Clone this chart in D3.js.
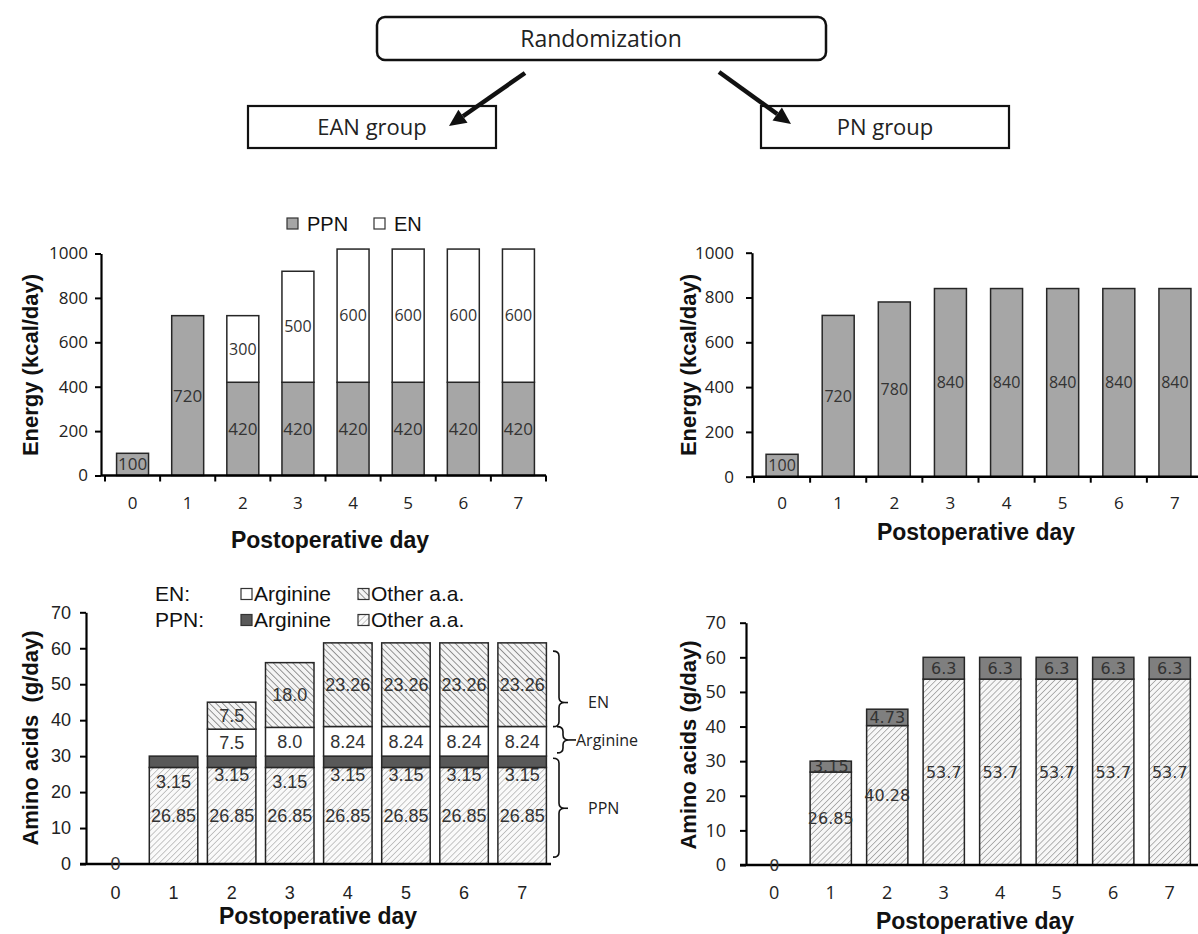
<!DOCTYPE html>
<html>
<head>
<meta charset="utf-8">
<script src="https://cdn.jsdelivr.net/npm/d3@7"></script>
<style>
  body { margin: 0; background: #fff; }
  svg { display: block; }
</style>
</head>
<body>
<div id="chart"></div>
<script>
// Postoperative days (categories)
const days = ["0", "1", "2", "3", "4", "5", "6", "7"];

// EAN group energy (kcal/day)
const eanPPN = [100, 720, 420, 420, 420, 420, 420, 420];
const eanEN = [0, 0, 300, 500, 600, 600, 600, 600];

// PN group energy (kcal/day)
const pnEnergy = [100, 720, 780, 840, 840, 840, 840, 840];

// EAN group amino acids (g/day)
const eanPpnOther = [0, 26.85, 26.85, 26.85, 26.85, 26.85, 26.85, 26.85];
const eanPpnArg = [0, 3.15, 3.15, 3.15, 3.15, 3.15, 3.15, 3.15];
const eanEnArg = [0, 0, 7.5, 8.0, 8.24, 8.24, 8.24, 8.24];
const eanEnOther = [0, 0, 7.5, 18.0, 23.26, 23.26, 23.26, 23.26];

// PN group amino acids (g/day)
const pnOther = [0, 26.85, 40.28, 53.7, 53.7, 53.7, 53.7, 53.7];
const pnArg = [0, 3.15, 4.73, 6.3, 6.3, 6.3, 6.3, 6.3];

// tick values
const energyTicks = [0, 200, 400, 600, 800, 1000];
const aminoTicks = [0, 10, 20, 30, 40, 50, 60, 70];

// brackets beside the EAN amino-acid chart (value ranges)
const braceLabels = ["EN", "Arginine", "PPN"];
const braceFrom = [38.2, 30.9, 1.9];
const braceTo = [59.2, 38.2, 29.4];
const braceTip = [44.9, 34.5, 15.5];

const width = 1198;
const height = 934;

const svg = d3.select("#chart")
  .append("svg")
  .attr("width", width)
  .attr("height", height);

// hatch patterns
const defs = svg.append("defs");
function hatch(id, angle, bg, stroke, size, sw) {
  const p = defs.append("pattern")
    .attr("id", id)
    .attr("patternUnits", "userSpaceOnUse")
    .attr("width", size)
    .attr("height", size)
    .attr("patternTransform", `rotate(${angle})`);
  p.append("rect").attr("width", size).attr("height", size).attr("fill", bg);
  p.append("line")
    .attr("x1", 0).attr("y1", 0).attr("x2", 0).attr("y2", size)
    .attr("stroke", stroke).attr("stroke-width", sw);
}
hatch("ppnHatch", 45, "#fafafa", "#9a9a9a", 4.2, 1.1);
hatch("enHatch", -45, "#f4f4f4", "#6a6a6a", 4.6, 1.4);
hatch("pnHatch", 45, "#f7f7f7", "#7a7a7a", 4.2, 1.1);

const fmtAmino = d => d === 0 ? "0" : (Number.isInteger(d) ? d.toFixed(1) : String(d));

// ---------- flowchart ----------
const flow = svg.append("g");
flow.append("rect")
  .attr("x", 377).attr("y", 17).attr("width", 449).attr("height", 43)
  .attr("rx", 8)
  .attr("fill", "#fff").attr("stroke", "#111").attr("stroke-width", 2.5);
flow.append("text")
  .attr("x", 601).attr("y", 39).attr("dy", "0.35em")
  .attr("text-anchor", "middle")
  .style("font-family", "Open Sans").style("font-size", "23px")
  .attr("fill", "#222")
  .text("Randomization");

const groupBoxes = [
  { x: 248, label: "EAN group" },
  { x: 761, label: "PN group" }
];
groupBoxes.forEach(b => {
  flow.append("rect")
    .attr("x", b.x).attr("y", 106).attr("width", 248).attr("height", 42)
    .attr("fill", "#fff").attr("stroke", "#111").attr("stroke-width", 2.2);
  flow.append("text")
    .attr("x", b.x + 124).attr("y", 127).attr("dy", "0.35em")
    .attr("text-anchor", "middle")
    .style("font-family", "Open Sans").style("font-size", "22px")
    .attr("fill", "#222")
    .text(b.label);
});

function arrow(x1, y1, x2, y2) {
  const a = Math.atan2(y2 - y1, x2 - x1);
  const hl = 17, hw = 8;
  const bx = x2 - hl * Math.cos(a), by = y2 - hl * Math.sin(a);
  flow.append("line")
    .attr("x1", x1).attr("y1", y1).attr("x2", bx).attr("y2", by)
    .attr("stroke", "#111").attr("stroke-width", 4.5);
  const px = -Math.sin(a) * hw, py = Math.cos(a) * hw;
  flow.append("path")
    .attr("d", `M${x2},${y2}L${bx + px},${by + py}L${bx - px},${by - py}Z`)
    .attr("fill", "#111");
}
arrow(525, 73, 449, 126);
arrow(719, 72, 791, 124);

// ---------- helpers ----------
function yAxis(g, y, ticks, x0, font, size, pad) {
  const ax = g.append("g")
    .attr("transform", `translate(${x0},0)`)
    .call(d3.axisLeft(y).tickValues(ticks).tickFormat(d3.format("d"))
      .tickSize(6).tickSizeOuter(0).tickPadding(pad));
  ax.select(".domain").attr("stroke", "#000").attr("stroke-width", 2.2);
  ax.selectAll(".tick line").attr("stroke", "#000").attr("stroke-width", 2);
  ax.selectAll(".tick text")
    .style("font-family", font).style("font-size", size + "px").attr("fill", "#222");
}

function xAxis(g, x, y0, xStart, xEnd, labelY, boundaryTicks, font, size) {
  g.append("line")
    .attr("x1", xStart).attr("x2", xEnd).attr("y1", y0).attr("y2", y0)
    .attr("stroke", "#000").attr("stroke-width", 2.4);
  if (boundaryTicks) {
    g.selectAll(null)
      .data(d3.range(x.domain().length + 1))
      .enter().append("line")
      .attr("x1", i => x.range()[0] + i * x.step())
      .attr("x2", i => x.range()[0] + i * x.step())
      .attr("y1", y0).attr("y2", y0 + 6)
      .attr("stroke", "#000").attr("stroke-width", 2);
  }
  g.selectAll(null)
    .data(x.domain())
    .enter().append("text")
    .attr("x", d => x(d) + x.bandwidth() / 2)
    .attr("y", labelY).attr("dy", "0.35em")
    .attr("text-anchor", "middle")
    .style("font-family", font).style("font-size", size + "px")
    .attr("fill", "#222")
    .text(d => d);
}

function titles(g, xt, yt, yTitle) {
  g.append("text")
    .attr("x", xt[0]).attr("y", xt[1]).attr("dy", "0.35em")
    .attr("text-anchor", "middle")
    .style("font-family", "Liberation Sans").style("font-weight", "bold")
    .style("font-size", "23px").attr("fill", "#111")
    .text("Postoperative day");
  g.append("text")
    .attr("transform", `translate(${yt[0]},${yt[1]}) rotate(-90)`)
    .attr("dy", "0.35em")
    .attr("text-anchor", "middle")
    .attr("xml:space", "preserve")
    .style("white-space", "pre")
    .style("font-family", "Liberation Sans").style("font-weight", "bold")
    .style("font-size", "22px").attr("fill", "#111")
    .text(yTitle);
}

function segments(g, layer, x, y, fill) {
  g.selectAll(null)
    .data(layer.filter(d => d.data[layer.key] > 0))
    .enter().append("rect")
    .attr("x", d => x(d.data.day))
    .attr("width", x.bandwidth())
    .attr("y", d => y(d[1]))
    .attr("height", d => y(d[0]) - y(d[1]))
    .attr("fill", fill)
    .attr("stroke", "#262626")
    .attr("stroke-width", 1.5);
}

function segLabels(g, layer, x, y, fmt, font, size, shift) {
  g.selectAll(null)
    .data(layer.filter(d => d.data[layer.key] > 0))
    .enter().append("text")
    .attr("x", d => x(d.data.day) + x.bandwidth() / 2)
    .attr("y", d => shift ? y(d[0]) + shift(d) : y((d[0] + d[1]) / 2))
    .attr("dy", "0.35em")
    .attr("text-anchor", "middle")
    .style("font-family", font).style("font-size", size + "px")
    .attr("fill", "#333")
    .text(d => fmt(d.data[layer.key]));
}

// ---------- top-left: EAN energy ----------
const gTL = svg.append("g");
const xTL = d3.scaleBand().domain(days).range([105, 546]).paddingInner(0.42).paddingOuter(0.21);
const yTL = d3.scaleLinear().domain([0, 1000]).range([475.5, 253.5]);
const energyRows = days.map((d, i) => ({ day: d, ppn: eanPPN[i], en: eanEN[i] }));
const energyStack = d3.stack().keys(["ppn", "en"])(energyRows);
segments(gTL, energyStack[0], xTL, yTL, "#a6a6a6");
segments(gTL, energyStack[1], xTL, yTL, "#ffffff");
segLabels(gTL, energyStack[0], xTL, yTL, String, "Open Sans", 17);
segLabels(gTL, energyStack[1], xTL, yTL, String, "Open Sans", 16);
yAxis(gTL, yTL, energyTicks, 101, "Open Sans", 17, 7);
xAxis(gTL, xTL, yTL(0), 101, 546, 503, true, "Open Sans", 17);
titles(gTL, [330, 540], [30, 365], "Energy (kcal/day)");

// legend
const legTL = [
  { label: "PPN", fill: "#a6a6a6", x: 287 },
  { label: "EN", fill: "#ffffff", x: 374 }
];
legTL.forEach(l => {
  gTL.append("rect").attr("x", l.x).attr("y", 218).attr("width", 11).attr("height", 11)
    .attr("fill", l.fill).attr("stroke", "#333").attr("stroke-width", 1.2);
  gTL.append("text").attr("x", l.x + 20).attr("y", 224).attr("dy", "0.35em")
    .style("font-family", "Liberation Sans").style("font-size", "20px").attr("fill", "#111")
    .text(l.label);
});

// ---------- top-right: PN energy ----------
const gTR = svg.append("g");
const xTR = d3.scaleBand().domain(days).range([754, 1203]).paddingInner(0.43).paddingOuter(0.215);
const yTR = d3.scaleLinear().domain([0, 1000]).range([476.7, 252.7]);
const pnRows = days.map((d, i) => ({ day: d, pn: pnEnergy[i] }));
const pnStack = d3.stack().keys(["pn"])(pnRows);
segments(gTR, pnStack[0], xTR, yTR, "#a6a6a6");
segLabels(gTR, pnStack[0], xTR, yTR, String, "Open Sans", 16);
yAxis(gTR, yTR, energyTicks, 752, "Open Sans", 17, 12);
xAxis(gTR, xTR, yTR(0), 752, 1198, 503, true, "Open Sans", 17);
titles(gTR, [976, 532], [688, 365], "Energy (kcal/day)");

// ---------- bottom-left: EAN amino acids ----------
const gBL = svg.append("g");
const xBL = d3.scaleBand().domain(days).range([86.4, 551.2]).paddingInner(0.165).paddingOuter(0.0825);
const yBL = d3.scaleLinear().domain([0, 70]).range([864, 612.3]);
const aaRows = days.map((d, i) => ({
  day: d, ppnOther: eanPpnOther[i], ppnArg: eanPpnArg[i], enArg: eanEnArg[i], enOther: eanEnOther[i]
}));
const aaStack = d3.stack().keys(["ppnOther", "ppnArg", "enArg", "enOther"])(aaRows);
const blFont = "Liberation Sans", blSize = 18;
segments(gBL, aaStack[0], xBL, yBL, "url(#ppnHatch)");
segLabels(gBL, aaStack[0], xBL, yBL, fmtAmino, blFont, blSize);
// PPN arginine labels sit just under their thin segment (partly covered by it)
const lowered = new Set(["1", "3"]);
segLabels(gBL, aaStack[1], xBL, yBL, fmtAmino, blFont, blSize,
  d => lowered.has(d.data.day) ? 14 : 7);
segments(gBL, aaStack[1], xBL, yBL, "#595959");
segments(gBL, aaStack[2], xBL, yBL, "#ffffff");
segments(gBL, aaStack[3], xBL, yBL, "url(#enHatch)");
segLabels(gBL, aaStack[2], xBL, yBL, fmtAmino, blFont, blSize);
segLabels(gBL, aaStack[3], xBL, yBL, fmtAmino, blFont, blSize);
yAxis(gBL, yBL, aminoTicks, 86, blFont, 18, 9);
xAxis(gBL, xBL, yBL(0), 80, 551, 893, false, blFont, 18);
// zero label on day 0
gBL.append("text")
  .attr("x", xBL("0") + xBL.bandwidth() / 2).attr("y", yBL(0)).attr("dy", "0.35em")
  .attr("text-anchor", "middle")
  .style("font-family", blFont).style("font-size", blSize + "px").attr("fill", "#333")
  .text("0");
titles(gBL, [318, 916], [30, 738], "Amino acids  (g/day)");

// legend
const legBL = [
  { row: 0, head: "EN:", fills: ["#ffffff", "url(#enHatch)"] },
  { row: 1, head: "PPN:", fills: ["#595959", "url(#ppnHatch)"] }
];
const legNames = ["Arginine", "Other a.a."];
const legCols = [241, 358];
legBL.forEach(l => {
  const cy = 594 + l.row * 26;
  gBL.append("text").attr("x", 155).attr("y", cy).attr("dy", "0.35em")
    .style("font-family", "Liberation Sans").style("font-size", "21px").attr("fill", "#111")
    .text(l.head);
  l.fills.forEach((f, j) => {
    gBL.append("rect").attr("x", legCols[j]).attr("y", cy - 5.5).attr("width", 11).attr("height", 11)
      .attr("fill", f).attr("stroke", "#333").attr("stroke-width", 1.2);
    gBL.append("text").attr("x", legCols[j] + 13).attr("y", cy).attr("dy", "0.35em")
      .style("font-family", "Liberation Sans").style("font-size", "21px").attr("fill", "#111")
      .text(legNames[j]);
  });
});

// braces
braceLabels.forEach((lab, i) => {
  const x0 = lab === "Arginine" ? 557 : 553, w = 6, r = 5;
  const yT = yBL(braceTo[i]), yB = yBL(braceFrom[i]), yM = yBL(braceTip[i]);
  const path = `M${x0},${yT}Q${x0 + w},${yT} ${x0 + w},${yT + r}` +
    `L${x0 + w},${yM - r}Q${x0 + w},${yM} ${x0 + 2 * w},${yM}` +
    `Q${x0 + w},${yM} ${x0 + w},${yM + r}L${x0 + w},${yB - r}` +
    `Q${x0 + w},${yB} ${x0},${yB}`;
  gBL.append("path").attr("d", path).attr("fill", "none")
    .attr("stroke", "#111").attr("stroke-width", 1.6);
  const lx = lab === "Arginine" ? 576 : 588;
  gBL.append("line").attr("x1", x0 + 2 * w).attr("x2", lab === "Arginine" ? lx : x0 + 2 * w + 3)
    .attr("y1", yM).attr("y2", yM).attr("stroke", "#111").attr("stroke-width", 1.6);
  gBL.append("text").attr("x", lx).attr("y", yM).attr("dy", "0.35em")
    .style("font-family", "Open Sans").style("font-size", "16px").attr("fill", "#222")
    .text(lab);
});

// ---------- bottom-right: PN amino acids ----------
const gBR = svg.append("g");
const xBR = d3.scaleBand().domain(days).range([746, 1198]).paddingInner(0.27).paddingOuter(0.135);
const yBR = d3.scaleLinear().domain([0, 70]).range([865, 622.7]);
const pnAaRows = days.map((d, i) => ({ day: d, other: pnOther[i], arg: pnArg[i] }));
const pnAaStack = d3.stack().keys(["other", "arg"])(pnAaRows);
segments(gBR, pnAaStack[0], xBR, yBR, "url(#pnHatch)");
segments(gBR, pnAaStack[1], xBR, yBR, "#7f7f7f");
segLabels(gBR, pnAaStack[0], xBR, yBR, fmtAmino, "DejaVu Sans", 16);
segLabels(gBR, pnAaStack[1], xBR, yBR, fmtAmino, "DejaVu Sans", 16);
yAxis(gBR, yBR, aminoTicks, 746, "Open Sans", 18, 14);
xAxis(gBR, xBR, yBR(0), 740, 1198, 893, false, "Open Sans", 18);
gBR.append("text")
  .attr("x", xBR("0") + xBR.bandwidth() / 2).attr("y", yBR(0)).attr("dy", "0.35em")
  .attr("text-anchor", "middle")
  .style("font-family", "DejaVu Sans").style("font-size", "16px").attr("fill", "#333")
  .text("0");
titles(gBR, [975, 921], [688, 745], "Amino acids (g/day)");
</script>
</body>
</html>
